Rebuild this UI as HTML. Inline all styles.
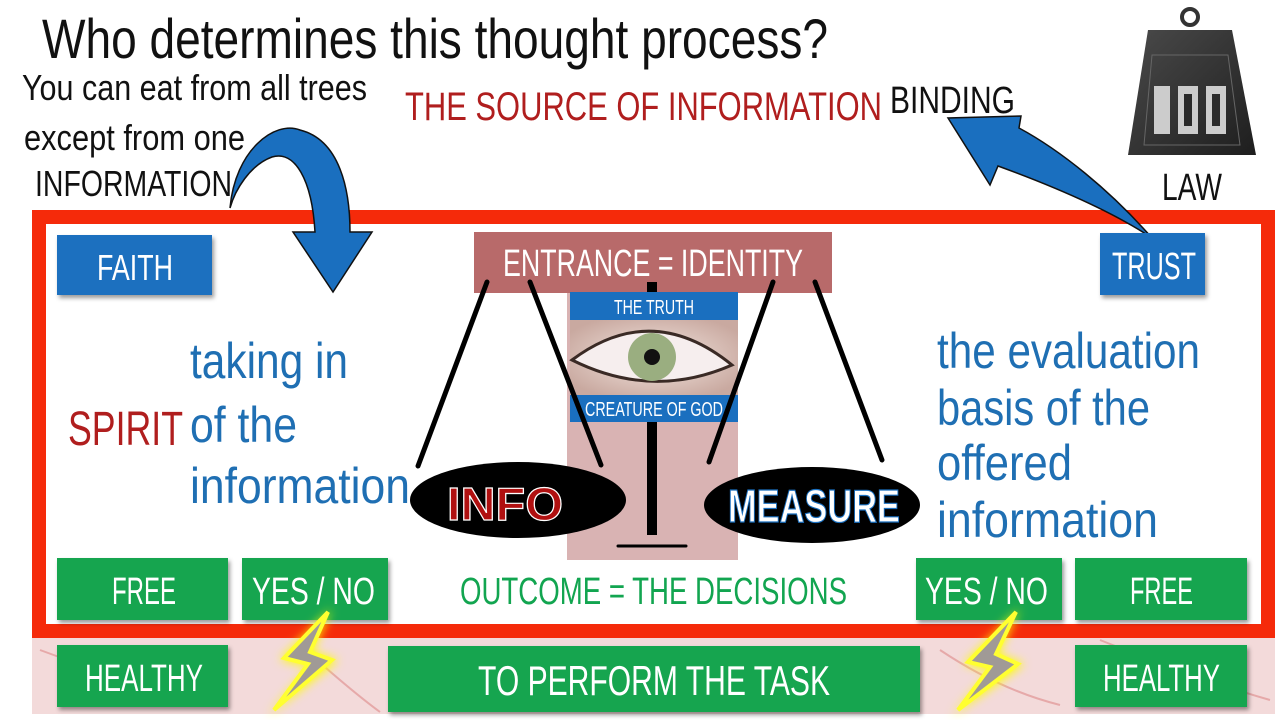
<!DOCTYPE html>
<html><head><meta charset="utf-8"><style>
html,body{margin:0;padding:0;background:#fff;}
svg{display:block;}
text{font-family:"Liberation Sans Narrow","Liberation Sans",sans-serif;}
</style></head><body>
<svg width="1280" height="720" viewBox="0 0 1280 720" xmlns="http://www.w3.org/2000/svg">
<defs>
<filter id="sh" x="-10%" y="-10%" width="125%" height="130%"><feDropShadow dx="2" dy="3" stdDeviation="2" flood-color="#000" flood-opacity="0.4"/></filter>
<filter id="glow" x="-50%" y="-50%" width="200%" height="200%"><feGaussianBlur stdDeviation="5"/></filter>
<radialGradient id="eye" cx="50%" cy="50%" r="60%"><stop offset="0" stop-color="#f3e6e0"/><stop offset="1" stop-color="#c9a9a0"/></radialGradient>
<linearGradient id="wt" x1="0" y1="0" x2="1" y2="1"><stop offset="0" stop-color="#4a4a4a"/><stop offset="1" stop-color="#1e1e1e"/></linearGradient>
</defs>

<rect x="32" y="638" width="1243" height="76" fill="#f3dada"/>
<path d="M40 650 Q120 680 200 700 M300 645 Q350 690 380 712 M940 650 Q1000 690 1060 705 M1100 640 Q1200 680 1270 700" stroke="#d88" stroke-width="2" fill="none" opacity="0.6"/>

<rect x="39" y="217" width="1229" height="414" fill="#fff" stroke="#f52a0a" stroke-width="14"/>

<text x="42" y="58" font-size="56" fill="#111" textLength="786" lengthAdjust="spacingAndGlyphs">Who determines this thought process?</text>
<text x="22" y="100" font-size="36" fill="#111" textLength="345" lengthAdjust="spacingAndGlyphs">You can eat from all trees</text>
<text x="24" y="150" font-size="36" fill="#111" textLength="221" lengthAdjust="spacingAndGlyphs">except from one</text>
<text x="35" y="196" font-size="36" fill="#111" textLength="197" lengthAdjust="spacingAndGlyphs">INFORMATION</text>
<text x="405" y="120" font-size="40" fill="#b01e1e" textLength="477" lengthAdjust="spacingAndGlyphs">THE SOURCE OF INFORMATION</text>
<text x="890" y="113" font-size="38" fill="#111" textLength="125" lengthAdjust="spacingAndGlyphs">BINDING</text>
<text x="1162" y="200" font-size="38" fill="#111" textLength="60" lengthAdjust="spacingAndGlyphs">LAW</text>

<circle cx="1190" cy="17" r="8" fill="none" stroke="#333" stroke-width="4"/>
<path d="M1148 30 H1232 L1256 155 H1128 Z" fill="url(#wt)"/>
<path d="M1152 55 H1228 L1240 145 H1144 Z" fill="none" stroke="#666" stroke-width="1"/>
<g fill="#ccc"><rect x="1154" y="86" width="16" height="48"/><rect x="1178" y="86" width="20" height="48"/><rect x="1206" y="86" width="20" height="48"/></g>
<g fill="#2a2a2a"><rect x="1184" y="94" width="8" height="32"/><rect x="1212" y="94" width="8" height="32"/></g>
<text x="1190" y="127" font-size="1" fill="#ccc" text-anchor="middle">100</text>

<path d="M230 208 C235 150 275 120 300 130 C340 140 350 190 350 232 L372 232 L333 292 L293 232 L315 232 C312 180 295 150 272 157 C250 165 235 190 230 208 Z" fill="#1a6fbf" stroke="#111" stroke-width="1.5"/>
<path d="M1152 238 C1110 190 1060 150 1019 128 L1021 116 L948 118 L990 185 L998 166 C1050 185 1110 210 1152 238 Z" fill="#1a6fbf" stroke="#111" stroke-width="1.5"/>

<rect x="57" y="235" width="155" height="60" fill="#1a6fbf" filter="url(#sh)"/>
<text x="97" y="280" font-size="36" fill="#fff" textLength="76" lengthAdjust="spacingAndGlyphs">FAITH</text>
<rect x="1100" y="233" width="105" height="62" fill="#1a6fbf" filter="url(#sh)"/>
<text x="1112" y="279" font-size="38" fill="#fff" textLength="84" lengthAdjust="spacingAndGlyphs">TRUST</text>

<rect x="567" y="293" width="171" height="267" fill="#d9b3b3"/>
<rect x="474" y="232" width="358" height="61" fill="#b86a6a"/>
<text x="503" y="276" font-size="38" fill="#fff" textLength="300" lengthAdjust="spacingAndGlyphs">ENTRANCE = IDENTITY</text>
<rect x="570" y="292" width="168" height="28" fill="#1a6fbf"/>
<text x="614" y="314" font-size="20" fill="#fff" textLength="80" lengthAdjust="spacingAndGlyphs">THE TRUTH</text>
<rect x="570" y="320" width="168" height="75" fill="url(#eye)"/>
<path d="M572 360 Q652 300 732 365 Q652 400 572 360 Z" fill="#f6eeee" stroke="#3a2a25" stroke-width="3"/>
<circle cx="652" cy="357" r="24" fill="#9aae80"/>
<circle cx="652" cy="357" r="8" fill="#111"/>
<rect x="570" y="395" width="168" height="27" fill="#1a6fbf"/>
<text x="585" y="416" font-size="20" fill="#fff" textLength="138" lengthAdjust="spacingAndGlyphs">CREATURE OF GOD</text>

<g stroke="#000" stroke-linecap="round">
<line x1="487" y1="282" x2="418" y2="466" stroke-width="5"/>
<line x1="530" y1="282" x2="601" y2="465" stroke-width="5"/>
<line x1="773" y1="282" x2="709" y2="462" stroke-width="5"/>
<line x1="815" y1="282" x2="882" y2="460" stroke-width="5"/>
<line x1="652" y1="282" x2="652" y2="292" stroke-width="10" stroke-linecap="butt"/>
<line x1="652" y1="422" x2="652" y2="535" stroke-width="10" stroke-linecap="butt"/>
<line x1="618" y1="546" x2="686" y2="546" stroke-width="3"/>
</g>

<ellipse cx="518" cy="500" rx="108" ry="38" fill="#000"/>
<text x="447" y="520" font-size="46" font-weight="bold" fill="#b01010" stroke="#fff" stroke-width="1.2" textLength="116" lengthAdjust="spacingAndGlyphs">INFO</text>
<ellipse cx="812" cy="505" rx="108" ry="38" fill="#000"/>
<text x="728" y="522" font-size="46" font-weight="bold" fill="#fff" stroke="#1a6fbf" stroke-width="1.2" textLength="172" lengthAdjust="spacingAndGlyphs">MEASURE</text>

<text x="68" y="445" font-size="48" fill="#b01e1e" textLength="115" lengthAdjust="spacingAndGlyphs">SPIRIT</text>
<g fill="#1f6fb3" font-size="50">
<text x="190" y="378" textLength="158" lengthAdjust="spacingAndGlyphs">taking in</text>
<text x="190" y="442" textLength="107" lengthAdjust="spacingAndGlyphs">of the</text>
<text x="190" y="503" textLength="220" lengthAdjust="spacingAndGlyphs">information</text>
<text x="937" y="368" textLength="263" lengthAdjust="spacingAndGlyphs">the evaluation</text>
<text x="937" y="425" textLength="213" lengthAdjust="spacingAndGlyphs">basis of the</text>
<text x="937" y="480" textLength="135" lengthAdjust="spacingAndGlyphs">offered</text>
<text x="937" y="537" textLength="221" lengthAdjust="spacingAndGlyphs">information</text>
</g>

<g fill="#12a550" filter="url(#sh)">
<rect x="57" y="558" width="171" height="62"/>
<rect x="242" y="558" width="146" height="62"/>
<rect x="916" y="558" width="146" height="62"/>
<rect x="1075" y="558" width="172" height="62"/>
<rect x="57" y="645" width="171" height="62"/>
<rect x="388" y="646" width="532" height="66"/>
<rect x="1075" y="645" width="172" height="62"/>
</g>
<g fill="#fff" font-size="38">
<text x="112" y="604" textLength="64" lengthAdjust="spacingAndGlyphs">FREE</text>
<text x="252" y="604" textLength="123" lengthAdjust="spacingAndGlyphs">YES / NO</text>
<text x="925" y="604" textLength="123" lengthAdjust="spacingAndGlyphs">YES / NO</text>
<text x="1130" y="604" textLength="63" lengthAdjust="spacingAndGlyphs">FREE</text>
<text x="85" y="691" textLength="118" lengthAdjust="spacingAndGlyphs">HEALTHY</text>
<text x="478" y="695" font-size="42" textLength="352" lengthAdjust="spacingAndGlyphs">TO PERFORM THE TASK</text>
<text x="1103" y="691" textLength="117" lengthAdjust="spacingAndGlyphs">HEALTHY</text>
</g>
<text x="460" y="604" font-size="38" fill="#12a550" textLength="387" lengthAdjust="spacingAndGlyphs">OUTCOME = THE DECISIONS</text>

<g>
<path d="M332 608 L280 660 L310 666 L268 716 L338 660 L312 652 Z" fill="#ffff00" filter="url(#glow)"/>
<path d="M328 612 L284 658 L308 664 L274 710 L332 660 L310 652 Z" fill="#a09a96" stroke="#ffff30" stroke-width="4"/>
<path d="M1020 608 L964 664 L992 670 L952 716 L1024 664 L998 654 Z" fill="#ffff00" filter="url(#glow)"/>
<path d="M1016 612 L968 662 L990 667 L958 710 L1018 664 L996 654 Z" fill="#a09a96" stroke="#ffff30" stroke-width="4"/>
</g>
</svg>
</body></html>
